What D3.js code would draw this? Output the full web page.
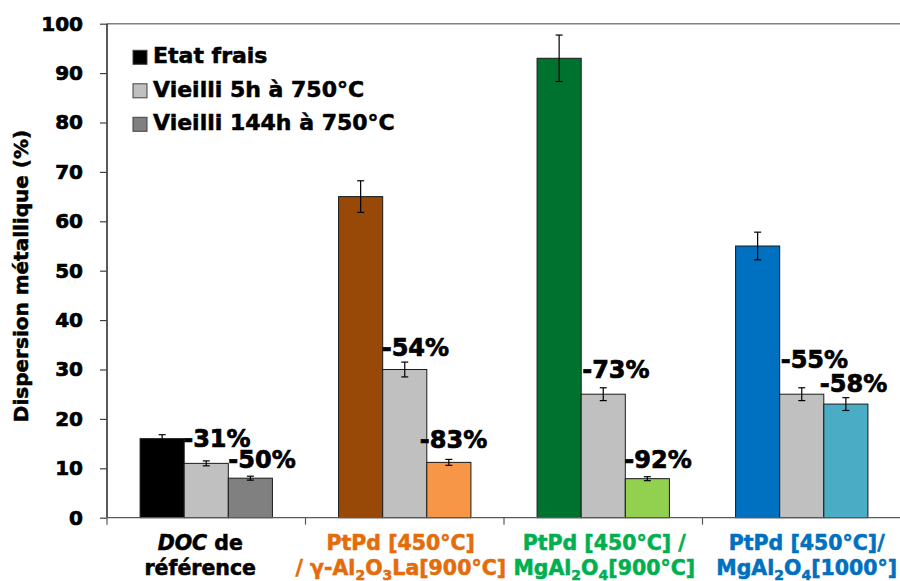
<!DOCTYPE html>
<html>
<head>
<meta charset="utf-8">
<script src="https://cdn.jsdelivr.net/npm/d3@7"></script>
<style>
  html, body { margin: 0; padding: 0; background: #fff; }
  svg { display: block; }
  text { font-family: "DejaVu Sans", Verdana, sans-serif; font-weight: bold; }
</style>
</head>
<body>
<svg id="chart" width="900" height="581"></svg>
<script>
// Metal dispersion of the catalysts, fresh and after ageing
const categoryIds = ["DOC", "PtPd-gAl2O3La", "PtPd-MgAl2O4-900", "PtPd-MgAl2O4-1000"];
const seriesNames = ["Etat frais", "Vieilli 5h à 750°C", "Vieilli 144h à 750°C"];

const fresh    = [16, 65, 93, 55];
const aged5h   = [11, 30, 25, 25];
const aged144h = [8, 11.2, 7.9, 23];

const errFresh    = [0.8, 3.2, 4.7, 2.8];
const err5h       = [0.5, 1.5, 1.3, 1.3];
const err144h     = [0.4, 0.6, 0.4, 1.3];

const yTicks = [0, 10, 20, 30, 40, 50, 60, 70, 80, 90, 100];

// Category labels, one array of segments per line (i = italic, s = subscript)
const categoryLabels = [
  [[{t: "DOC", i: 1}, {t: " de"}], [{t: "référence"}]],
  [[{t: "PtPd [450°C]"}], [{t: "/ γ-Al"}, {t: "2", s: 1}, {t: "O"}, {t: "3", s: 1}, {t: "La[900°C]"}]],
  [[{t: "PtPd [450°C] /"}], [{t: "MgAl"}, {t: "2", s: 1}, {t: "O"}, {t: "4", s: 1}, {t: "[900°C]"}]],
  [[{t: "PtPd [450°C]/"}], [{t: "MgAl"}, {t: "2", s: 1}, {t: "O"}, {t: "4", s: 1}, {t: "[1000°]"}]]
];

// Styling
const barColors = [
  ["#000000", "#c0c0c0", "#808080"],
  ["#984807", "#c0c0c0", "#f79646"],
  ["#00722f", "#c0c0c0", "#92d050"],
  ["#0070c0", "#c0c0c0", "#4bacc6"]
];
const legendColors = ["#000000", "#c0c0c0", "#808080"];
const labelColors = ["#000000", "#e46c0a", "#00b050", "#0070c0"];
const labelShift = [-6, -4, 1, 5];
// placement of the change labels relative to the bar's left edge / top
const changeOffset5h   = [[-1, -16.5], [-1, -13.5], [1, -16], [1, -26]];
const changeOffset144h = [[0, -10], [-7, -14], [-1, -10.4], [-4, -12.4]];

const svg = d3.select("#chart");
const plotLeft = 107, plotRight = 901, plotTop = 23.7, plotBottom = 517.7;
const heavy = 0.55; // extra outline to get a heavier bold weight

const x0 = d3.scaleBand().domain(categoryIds).range([plotLeft, plotRight]).padding(0);
const groupPad = x0.bandwidth() * (1.5 / 9);
const x1 = d3.scaleBand().domain([0, 1, 2]).range([groupPad, x0.bandwidth() - groupPad]).padding(0);
const y = d3.scaleLinear().domain([0, 100]).range([plotBottom, plotTop]);

// top border of the plot area
svg.append("line")
  .attr("x1", plotLeft).attr("x2", plotRight)
  .attr("y1", y(100)).attr("y2", y(100))
  .attr("stroke", "#808080").attr("stroke-width", 1.5);

const series = [fresh, aged5h, aged144h];
const errs = [errFresh, err5h, err144h];

const bars = [];
categoryIds.forEach((c, ci) => {
  series.forEach((vals, si) => {
    bars.push({c, ci, si, v: vals[ci], e: errs[si][ci]});
  });
});

svg.append("g").selectAll("rect").data(bars).join("rect")
  .attr("x", d => x0(d.c) + x1(d.si))
  .attr("y", d => y(d.v))
  .attr("width", x1.bandwidth())
  .attr("height", d => y(0) - y(d.v))
  .attr("fill", d => barColors[d.ci][d.si])
  .attr("stroke", "#1a1a1a")
  .attr("stroke-width", 1);

// error bars
const eg = svg.append("g").attr("stroke", "#000").attr("stroke-width", 1.2);
bars.forEach(d => {
  const cx = x0(d.c) + x1(d.si) + x1.bandwidth() / 2;
  const y1 = y(d.v + d.e), y2 = y(d.v - d.e);
  eg.append("line").attr("x1", cx).attr("x2", cx).attr("y1", y1).attr("y2", y2);
  eg.append("line").attr("x1", cx - 3.5).attr("x2", cx + 3.5).attr("y1", y1).attr("y2", y1);
  eg.append("line").attr("x1", cx - 3.5).attr("x2", cx + 3.5).attr("y1", y2).attr("y2", y2);
});

// change relative to the fresh state
function pct(v, ref) { return Math.round((v - ref) / ref * 100) + "%"; }
const changeLabels = [];
categoryIds.forEach((c, ci) => {
  changeLabels.push({c, ci, si: 1, v: aged5h[ci], text: pct(aged5h[ci], fresh[ci]), off: changeOffset5h[ci]});
  changeLabels.push({c, ci, si: 2, v: aged144h[ci], text: pct(aged144h[ci], fresh[ci]), off: changeOffset144h[ci]});
});
svg.append("g").selectAll("text").data(changeLabels).join("text")
  .attr("x", d => x0(d.c) + x1(d.si) + d.off[0])
  .attr("y", d => y(d.v) + d.off[1])
  .attr("font-size", 24)
  .attr("fill", "#000")
  .attr("stroke", "#000").attr("stroke-width", 0.7)
  .text(d => d.text);

// y axis
const yAxis = svg.append("g")
  .attr("transform", `translate(${plotLeft},0)`)
  .call(d3.axisLeft(y).tickValues(yTicks).tickSize(7).tickPadding(17).tickFormat(d3.format("d")));
yAxis.select(".domain").attr("stroke", "#000").attr("stroke-width", 1.3).attr("d", `M0,${y(100)}V${y(0)}`);
yAxis.selectAll(".tick line").attr("stroke", "#404040").attr("stroke-width", 1.2);
yAxis.selectAll(".tick text")
  .attr("font-family", "DejaVu Sans, sans-serif").attr("font-weight", "bold")
  .attr("font-size", 20).attr("fill", "#000")
  .attr("stroke", "#000").attr("stroke-width", 0.7);

// x axis with ticks at category boundaries
const xAxisG = svg.append("g");
xAxisG.append("line")
  .attr("x1", plotLeft).attr("x2", plotRight)
  .attr("y1", plotBottom).attr("y2", plotBottom)
  .attr("stroke", "#595959").attr("stroke-width", 1.3);
const boundaries = categoryIds.map(c => x0(c)).concat([plotRight]);
xAxisG.selectAll("line.tick").data(boundaries).join("line")
  .attr("class", "tick")
  .attr("x1", d => d).attr("x2", d => d)
  .attr("y1", plotBottom).attr("y2", plotBottom + 7)
  .attr("stroke", "#595959").attr("stroke-width", 1.2);

// category labels
const baselines = [549.5, 574.5];
categoryLabels.forEach((lines, ci) => {
  const cx = x0(categoryIds[ci]) + x0.bandwidth() / 2 + labelShift[ci];
  lines.forEach((segs, li) => {
    const t = svg.append("text")
      .attr("x", cx).attr("y", baselines[li])
      .attr("text-anchor", "middle")
      .attr("font-size", 20.5)
      .attr("fill", labelColors[ci])
      .attr("stroke", labelColors[ci]).attr("stroke-width", heavy);
    let shifted = false;
    segs.forEach(s => {
      const ts = t.append("tspan").text(s.t);
      if (s.i) ts.attr("font-style", "italic");
      if (s.s) { ts.attr("font-size", 14).attr("dy", 5); shifted = true; }
      else if (shifted) { ts.attr("dy", -5); shifted = false; }
    });
  });
});

// y axis title
svg.append("text")
  .attr("transform", "translate(28,276) rotate(-90)")
  .attr("text-anchor", "middle")
  .attr("font-size", 20)
  .attr("fill", "#000")
  .attr("stroke", "#000").attr("stroke-width", heavy)
  .text("Dispersion métallique (%)");

// legend
const legend = svg.append("g");
seriesNames.forEach((name, i) => {
  const by = 63.3 + i * 33.5;
  legend.append("rect")
    .attr("x", 133).attr("y", by - 13).attr("width", 14).attr("height", 14)
    .attr("fill", legendColors[i]).attr("stroke", "#404040").attr("stroke-width", 1);
  legend.append("text")
    .attr("x", 153).attr("y", by)
    .attr("font-size", 22).attr("fill", "#000")
    .attr("stroke", "#000").attr("stroke-width", heavy)
    .text(name);
});
</script>
</body>
</html>
